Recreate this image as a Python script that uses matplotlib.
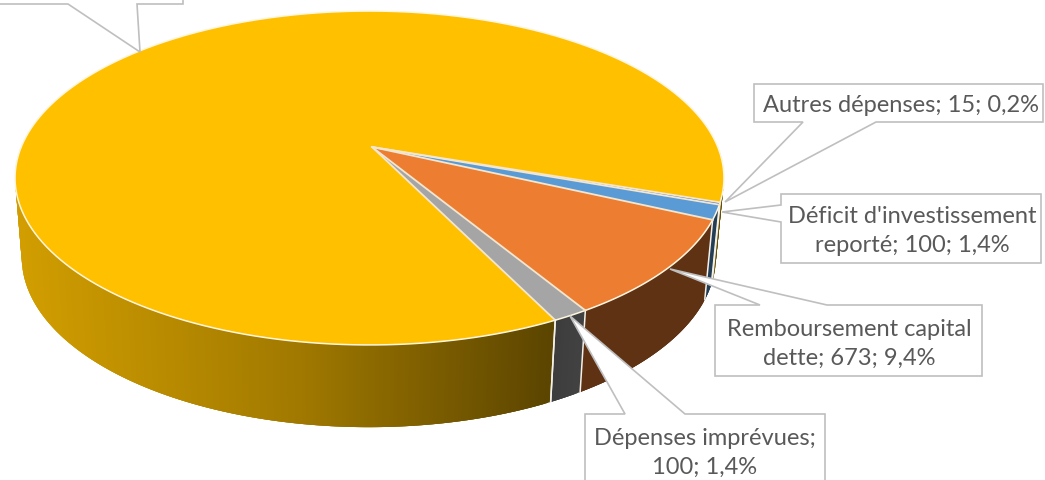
import numpy as np
import matplotlib
matplotlib.use("Agg")
import matplotlib.pyplot as plt
from matplotlib.collections import PolyCollection
from matplotlib.patches import Polygon

# ---- data ----
categories = ["", "Autres dépenses", "Déficit d'investissement reporté",
              "Remboursement capital dette", "Dépenses imprévues"]
values = [6255, 15, 100, 673, 100]
slice_colors = ["#FFC000", "#4472C4", "#5B9BD5", "#ED7D31", "#A5A5A5"]
label_texts = ["", "Autres dépenses; 15; 0,2%", "Déficit d'investissement\nreporté; 100; 1,4%",
               "Remboursement capital\ndette; 673; 9,4%", "Dépenses imprévues;\n100; 1,4%"]

# ---- layout ----
W, H = 1045, 481
START_ANGLE = -63.6
K = 0.1856
APEX = (372.0, 148.0)
TOP = dict(c=369.5, y=148.0, q=348.3, p=161.2)
BOT = dict(c=368.8, y=226.8, q=341.0, p=164.0)
BOX_EDGE = "#BFBFBF"
TXT = "#595959"
# box: left, top, right, bottom, pointer base A, pointer base B, pointer tip, text centre
boxes = {
    0: ((-20, -60, 183, 5), (68, 5), (137, 5), (140, 53), None),
    1: ((754, 85, 1043, 123), (803, 123), (876, 123), (725, 203), (901, 105)),
    2: ((781, 195, 1041, 264), (781, 206), (781, 223), (722, 213), (912, 231)),
    3: ((715, 306, 982, 377), (760, 306), (827, 306), (670, 270), (849, 344)),
    4: ((585, 415, 825, 500), (625, 415), (685, 415), (570, 317), (705, 453)),
}


def project(theta_deg, g):
    t = np.radians(theta_deg)
    u, v = np.cos(t), np.sin(t)
    d = 1 + K * v
    return g["c"] + g["q"] * u / d, g["y"] - g["p"] * v / d


def side_factor(x):
    return np.interp(x, [20, 300, 550, 584, 1000], [0.82, 0.63, 0.36, 0.40, 0.40])


fig = plt.figure(figsize=(W / 100, H / 100), dpi=100)
ax = fig.add_axes([0, 0, 1, 1])
ax.set_xlim(0, W)
ax.set_ylim(H, 0)
ax.axis("off")

total = sum(values)
spans = [v / total * 360 for v in values]
starts = START_ANGLE - np.concatenate([[0], np.cumsum(spans)[:-1]])

# side walls: overlapping strips, each covering the front edge of the one before
for start, span, col in zip(starts, spans, slice_colors):
    th = np.linspace(start, start - span, max(int(span * 2), 2) + 1)
    xt, yt = project(th, TOP)
    xb, yb = project(th, BOT)
    polys, cols = [], []
    base = np.array(matplotlib.colors.to_rgb(col))
    for i in range(len(th) - 1):
        j = min(i + 3, len(th) - 1)
        if np.sin(np.radians(th[i])) > 0.02 and np.sin(np.radians(th[i + 1])) > 0.02:
            continue
        polys.append([(xt[i], yt[i]), (xt[j], yt[j]), (xb[j], yb[j]), (xb[i], yb[i])])
        cols.append(base * side_factor((xt[i] + xt[i + 1]) / 2))
    ax.add_collection(PolyCollection(polys, facecolors=cols, edgecolors="none", linewidths=0, zorder=2))

# pale seams between wall segments
for a in list(starts) + [starts[-1] - spans[-1]]:
    if np.sin(np.radians(a)) < -0.3:
        xt, yt = project(a, TOP)
        xb, yb = project(a, BOT)
        ax.plot([xt, xb], [yt, yb], color="#F4F1E8", lw=1.1, zorder=3, solid_capstyle="butt")

# top faces
for start, span, col in zip(starts, spans, slice_colors):
    th = np.linspace(start, start - span, max(int(span * 2), 2) + 1)
    xs, ys = project(th, TOP)
    pts = [APEX] + list(zip(xs, ys))
    ax.add_patch(Polygon(pts, closed=True, facecolor=col, edgecolor="none", zorder=4))
for start, span, col in zip(starts, spans, slice_colors):
    th = np.linspace(start, start - span, max(int(span * 2), 2) + 1)
    xs, ys = project(th, TOP)
    ax.plot(xs, ys, color="#FFF6E0", lw=1.1, zorder=5)
    x0, y0 = project(start, TOP)
    ax.plot([APEX[0], x0], [APEX[1], y0], color="#F2E6D0", lw=1.3, zorder=5)

# callout labels
for i, ((l, t, r, b), pa, pb, tip, tc) in boxes.items():
    if pa[1] == pb[1] and pa[1] == t:
        outline = [(l, t), pa, tip, pb, (r, t), (r, b), (l, b)]
    elif pa[1] == pb[1] and pa[1] == b:
        outline = [(l, t), (r, t), (r, b), pb, tip, pa, (l, b)]
    else:
        outline = [(l, t), (r, t), (r, b), (l, b), pb, tip, pa]
    ax.add_patch(Polygon(outline, closed=True, facecolor="white", edgecolor=BOX_EDGE,
                         lw=1.2, zorder=6, joinstyle="miter"))
    if tc is not None:
        ax.text(tc[0], tc[1], label_texts[i], ha="center", va="center", fontsize=17,
                family="Lato", color=TXT, linespacing=1.45, zorder=7)

fig.savefig("out.png", dpi=100)
